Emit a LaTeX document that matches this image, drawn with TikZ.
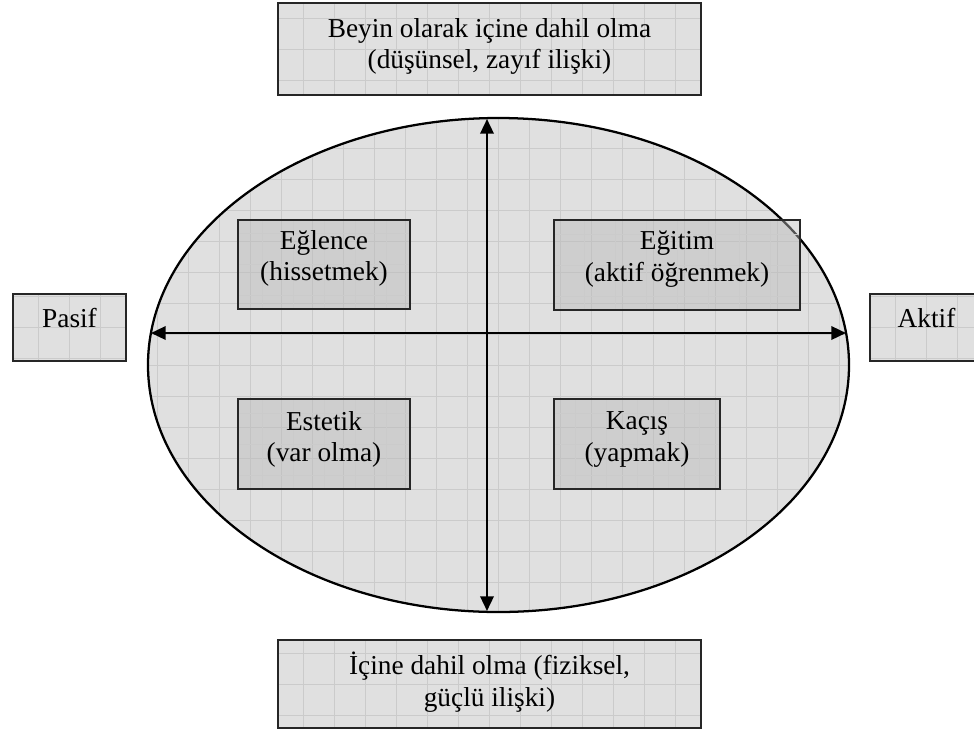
\documentclass[tikz,border=0pt]{standalone}
\usepackage{fontspec}
\setmainfont{Liberation Serif}
\usetikzlibrary{arrows.meta,shapes.geometric,positioning}

\definecolor{paneshade}{RGB}{224,224,224}
\definecolor{gridshade}{RGB}{203,203,203}
\definecolor{quadshade}{RGB}{186,186,186}

\begin{document}
\begin{tikzpicture}[
        x=0.75pt, y=-0.75pt,
        gridded/.style={path picture={
                    \draw[gridshade, line width=0.55pt]
                    (path picture bounding box.south west)
                    grid[step=\GridStep]
                    (path picture bounding box.north east);
                }},
        side box/.style={rectangle, draw=black!85, line width=1.8pt,
                fill=paneshade, gridded, inner sep=0pt},
        quad box/.style={rectangle, draw=black!85, line width=1.8pt,
                fill=quadshade, fill opacity=0.45, gridded, inner sep=0pt},
        box text/.style={align=center, inner sep=0pt,
                font=\fontsize{20.5}{23.5}\selectfont},
        axis/.style={line width=1.8pt, {Triangle[length=11pt, width=10pt]}-{Triangle[length=11pt, width=10pt]}},
    ]
    \newcommand*{\GridStep}{23.25pt}

    \clip (0,0) rectangle (974,729);

    % the stage
    \node[ellipse, draw, line width=1.7pt, fill=paneshade, gridded,
        minimum width=525.75pt, minimum height=370.5pt, inner sep=0pt]
    (stage) at (498.5,365) {};

    % outer boxes
    \node[side box, minimum width=317.25pt, minimum height=69pt] (top) at (489.5,49) {};
    \node[side box, minimum width=317.25pt, minimum height=66pt] (bottom) at (489.5,684) {};
    \node[side box, minimum width=84.75pt, minimum height=50.25pt] (pasif) at (69.5,327.5) {};
    \node[side box, minimum width=84.75pt, minimum height=50.25pt] (aktif) at (926.5,327.5) {};

    \node[box text] at ([yshift=2pt]top.center) {Beyin olarak içine dahil olma\\(düşünsel, zayıf ilişki)};
    \node[box text] at ([yshift=1.5pt]bottom.center) {İçine dahil olma (fiziksel,\\güçlü ilişki)};
    \node[box text] at ([yshift=7pt]pasif.center) {Pasif};
    \node[box text] at ([yshift=7pt]aktif.center) {Aktif};

    % the four realms
    \node[quad box, minimum width=129pt, minimum height=66.75pt] (eglence) at (324,264.5) {};
    \node[quad box, minimum width=184.5pt, minimum height=67.5pt] (egitim) at (677,265) {};
    \node[quad box, minimum width=129pt, minimum height=67.5pt] (estetik) at (324,444) {};
    \node[quad box, minimum width=124.5pt, minimum height=67.5pt] (kacis) at (637,444) {};

    \node[box text] at ([yshift=4.5pt]eglence.center) {Eğlence\\(hissetmek)};
    \node[box text] at ([yshift=4.5pt]egitim.center) {Eğitim\\(aktif öğrenmek)};
    \node[box text] at ([yshift=3.5pt]estetik.center) {Estetik\\(var olma)};
    \node[box text] at ([yshift=3.5pt]kacis.center) {Kaçış\\(yapmak)};

    % axes
    \coordinate (axis west) at (151,333);
    \coordinate (axis east) at (846,333);
    \coordinate (axis north) at (487,119);
    \coordinate (axis south) at (487,611);
    \draw[axis] (axis west) -- (axis east);
    \draw[axis] (axis north) -- (axis south);
\end{tikzpicture}
\end{document}
